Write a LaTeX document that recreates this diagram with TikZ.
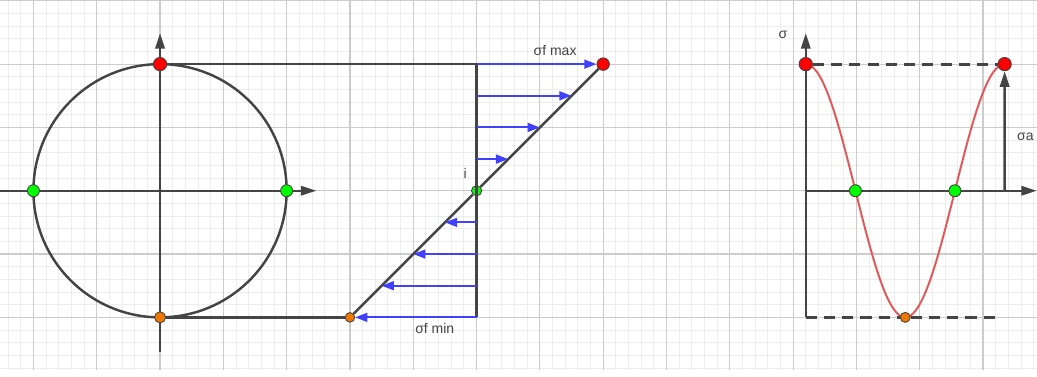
\documentclass[tikz,border=0pt]{standalone}
\usepackage{fontspec}
\setmainfont{Liberation Sans}
\usetikzlibrary{arrows.meta}
\definecolor{axisgray}{HTML}{444444}
\definecolor{gridmajor}{HTML}{CCCCCC}
\definecolor{gridminor}{HTML}{EDEDED}
\definecolor{forceblue}{HTML}{4040FF}
\definecolor{curvered}{HTML}{E05A5A}
\definecolor{dotorange}{HTML}{F07800}

\begin{document}
\begin{tikzpicture}[line width=1pt,every node/.style={font=\fontsize{6.3}{7}\selectfont,text=axisgray},
  ax/.style={axisgray,line width=1.1pt},axarrow/.style={ax,-{Triangle[length=7pt,width=4.2pt]}},
  force/.style={forceblue,line width=0.9pt,-{Triangle[length=5.5pt,width=4pt]}},
  dot/.style={circle,draw=axisgray,line width=0.4pt,inner sep=0pt,minimum size=#1},
  dashline/.style={ax,line width=1.3pt,dash pattern=on 5pt off 3.2pt}]
\useasboundingbox (-2.528,-2.927) rectangle (13.853,3.013);
% grid
\draw[gridminor,line width=0.4pt,step=0.2] (-2.528,-2.83) grid (13.853,3.013);
\draw[gridmajor,line width=0.5pt,step=1] (-2.528,-2.83) grid (13.853,3.013);
% circle
\coordinate (O) at (0,0);
\coordinate (xl) at (-2.53,0); \coordinate (xr) at (2.47,0);
\coordinate (yb) at (0,-2.55); \coordinate (yt) at (0,2.49);
\draw[ax] (O) circle (2);
\draw[axarrow] (xl) -- (xr); \draw[axarrow] (yb) -- (yt);
% stress profile
\coordinate (c5top) at (5,2); \coordinate (c5bot) at (5,-2);
\node[dot=6pt,fill=red] (ctop) at (0,2) {};
\node[dot=5pt,fill=dotorange] (cbot) at (0,-2) {};
\node[dot=5.4pt,fill=green] (cleft) at (-2,0) {};
\node[dot=5.4pt,fill=green] (cright) at (2,0) {};
\node[dot=5.6pt,fill=red] (fmax) at (7,2) {};
\node[dot=4.3pt,fill=dotorange] (fmin) at (3,-2) {};
\node[dot=4.6pt,fill=green] (i) at (5,0) {};
\draw[ax] (ctop) -- (c5top) -- (c5bot);
\draw[ax] (cbot) -- (fmin);
\draw[ax] (fmin) -- (i) -- (fmax);
\foreach \y in {1.5,1,0.5,-0.5,-1,-1.5} { \draw[force] (5,\y) -- ({5+\y},\y); }
\draw[force] (c5top) -- (fmax); \draw[force] (c5bot) -- (fmin);
\node (lmax) at (6.24,2.22) {σf max};
\node (lmin) at (4.34,-2.17) {σf min};
\node (li) at (4.82,0.28) {i};
% cycle
\coordinate (s0) at (10.2,0); \coordinate (sb) at (10.2,-2); \coordinate (st) at (10.2,2.49);
\coordinate (tr) at (13.85,0); \coordinate (a0) at (13.342,0); \coordinate (bend) at (13.2,-2);
\draw[axarrow] (sb) -- (st); \draw[axarrow] (s0) -- (tr);
\draw[curvered,line width=0.9pt,domain=10.2:13.3416,samples=90,smooth] plot (\x,{2*cos(2*(\x-10.2) r)});
\node[dot=6pt,fill=red] (m1) at (10.2,2) {};
\node[dot=6pt,fill=red] (m2) at (13.3416,2) {};
\node[dot=5.4pt,fill=green] (z1) at (10.985,0) {};
\node[dot=5.4pt,fill=green] (z2) at (12.556,0) {};
\node[dot=4.5pt,fill=dotorange] (mn) at (11.771,-2) {};
\draw[dashline] (m1) -- (m2); \draw[dashline] (sb) -- (mn) -- (bend);
\draw[axarrow] (a0) -- (m2);
\node (ls) at (9.84,2.46) {σ};
\node (la) at (13.67,0.85) {σa};
\end{tikzpicture}
\end{document}
